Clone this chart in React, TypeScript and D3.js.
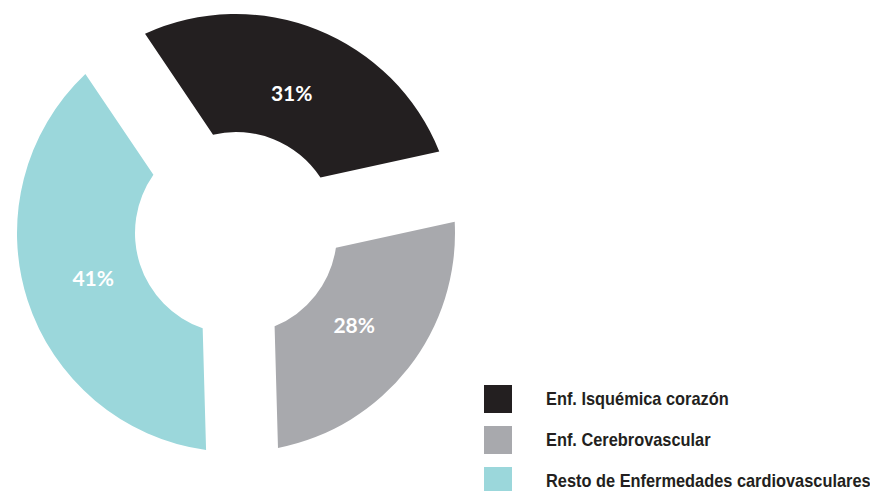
import React from "react";
import * as d3 from "d3";

const categories = ["Enf. Isquémica corazón", "Enf. Cerebrovascular", "Resto de Enfermedades cardiovasculares"];
const values = [31, 28, 41];
const labels = ["31%", "28%", "41%"];
const colors = ["#231f20", "#a8a9ad", "#9bd7db"];

const W = 870;
const H = 491;
const cx = 236;
const cy = 233;
const innerR = 101;
const outerR = 219;

export default function App() {
  const startDeg = 326;
  const start = ((startDeg - 360) * Math.PI) / 180;
  const pie = d3
    .pie<number>()
    .value((d) => d)
    .sort(null)
    .startAngle(start)
    .endAngle(start + 2 * Math.PI);
  const arcs = pie(values);
  const arc = d3
    .arc<d3.PieArcDatum<number>>()
    .innerRadius(innerR)
    .outerRadius(outerR)
    .padRadius(outerR)
    .padAngle(0.33);
  const labelArc = d3
    .arc<d3.PieArcDatum<number>>()
    .innerRadius(150)
    .outerRadius(150);

  const legendY = d3.scaleBand<number>().domain([0, 1, 2]).range([385, 508]).paddingInner(0);

  return (
    <svg
      width={W}
      height={H}
      style={{ position: "absolute", left: 0, top: 0, background: "#fff" }}
    >
      <g transform={`translate(${cx},${cy})`}>
        {arcs.map((a, i) => (
          <path key={i} d={arc(a) || ""} fill={colors[i]} />
        ))}
        {arcs.map((a, i) => {
          const [x, y] = labelArc.centroid(a);
          return (
            <text
              key={"l" + i}
              x={x}
              y={y}
              dy="0.36em"
              textAnchor="middle"
              fill="#fff"
              fontFamily="Lato, 'Noto Sans', sans-serif"
              fontWeight={700}
              fontSize={21}
            >
              {labels[i]}
            </text>
          );
        })}
      </g>
      {categories.map((c, i) => (
        <g key={"lg" + i} transform={`translate(484,${legendY(i)})`}>
          <rect width={28} height={28} fill={colors[i]} />
          <g transform="translate(62,14) scale(0.885,1)">
            <text
              x={0}
              y={0}
              dy="0.35em"
              fill="#231f20"
              fontFamily="'Liberation Sans', Arial, sans-serif"
              fontWeight={700}
              fontSize={18.5}
            >
              {c}
            </text>
          </g>
        </g>
      ))}
    </svg>
  );
}
